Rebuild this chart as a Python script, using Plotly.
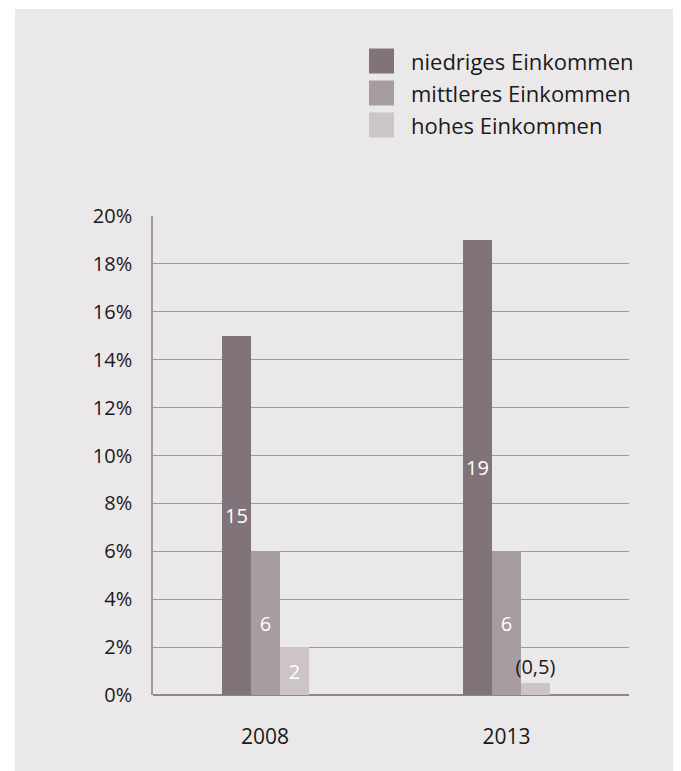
import plotly.graph_objects as go

years = ["2008", "2013"]
series_names = ["niedriges Einkommen", "mittleres Einkommen", "hohes Einkommen"]
niedrig = [15, 19]
mittel = [6, 6]
hoch = [2, 0.5]
niedrig_labels = ["15", "19"]
mittel_labels = ["6", "6"]
hoch_labels = ["2", "(0,5)"]
y_ticks = [0, 2, 4, 6, 8, 10, 12, 14, 16, 18, 20]
y_tick_text = [f"{v}%" for v in y_ticks]

colors = ["#80747a", "#a69ca2", "#cdc4c8"]
BG = "#ebe8e9"
FONT = "Open Sans"
TXT = "#1a1a1a"

x_pos = list(range(len(years)))
bw = 0.12
offsets = [-0.18, -0.06, 0.06]

fig = go.Figure()
all_vals = [niedrig, mittel, hoch]
all_labels = [niedrig_labels, mittel_labels, hoch_labels]
for i in range(3):
    vals = all_vals[i]
    labs = all_labels[i]
    positions = []
    fonts_c = []
    for v in vals:
        if v < 1:
            positions.append("outside")
            fonts_c.append(TXT)
        else:
            positions.append("inside")
            fonts_c.append("white")
    fig.add_trace(go.Bar(
        x=x_pos, y=vals, name=series_names[i],
        width=bw, offset=offsets[i],
        marker=dict(color=colors[i], line=dict(width=0)),
        text=labs, textposition=positions,
        insidetextanchor="middle",
        textfont=dict(family=FONT, size=20, color=fonts_c),
        constraintext="none", cliponaxis=False,
        showlegend=False,
    ))

# page has an 8px body margin; plot area in page pixels: x 153..629, y 216..695
PL, PR, PT, PB = 153.0, 629.0, 216.0, 695.0
def px_x(p):
    return (p - PL) / (PR - PL)
def px_y(p):
    return (PB - p) / (PB - PT)

shapes = [dict(type="rect", xref="paper", yref="paper", x0=px_x(15), x1=px_x(676),
               y0=px_y(771), y1=px_y(9), fillcolor=BG, line=dict(width=0), layer="below")]
annotations = []
row_centers = [61, 93, 125]
for i, name in enumerate(series_names):
    cy = row_centers[i]
    shapes.append(dict(type="rect", xref="paper", yref="paper",
                       x0=px_x(369), x1=px_x(394), y0=px_y(cy + 12.5), y1=px_y(cy - 12.5),
                       fillcolor=colors[i], line=dict(width=0)))
    annotations.append(dict(xref="paper", yref="paper", x=px_x(409), y=px_y(cy),
                            text=name, showarrow=False, xanchor="left", yanchor="middle",
                            font=dict(family=FONT, size=22, color=TXT)))

fig.update_layout(
    width=673, height=763,
    margin=dict(l=145, r=52, t=208, b=76, pad=0),
    paper_bgcolor="white", plot_bgcolor="rgba(0,0,0,0)",
    bargap=0, barmode="overlay",
    shapes=shapes, annotations=annotations,
    font=dict(family=FONT, color=TXT),
    xaxis=dict(range=[-0.464, 1.507], tickvals=x_pos, ticktext=years,
               showgrid=False, zeroline=False, showline=False,
               tickfont=dict(family=FONT, size=21, color=TXT), ticklabelstandoff=27,
               fixedrange=True),
    yaxis=dict(range=[0, 20], tickvals=y_ticks, ticktext=y_tick_text,
               showgrid=True, gridcolor="#a19a9d", gridwidth=1,
               zeroline=True, zerolinecolor="#8e878a", zerolinewidth=2,
               showline=True, linecolor="#a19a9d", linewidth=1.5,
               tickfont=dict(family=FONT, size=20, color=TXT), ticklabelstandoff=15,
               fixedrange=True),
)

fig.write_html("out.html")
